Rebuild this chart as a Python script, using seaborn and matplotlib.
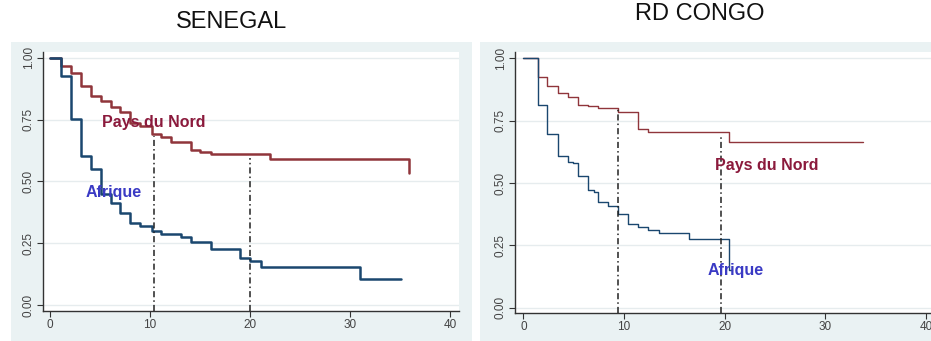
import numpy as np
import pandas as pd
import matplotlib
matplotlib.use("Agg")
import matplotlib.pyplot as plt
from matplotlib.patches import Rectangle
import seaborn as sns

# ---- Data (Kaplan-Meier step curves) ----
sen_nord_t = [0, 1.06, 2.06, 3.06, 4.06, 5.06, 6.06, 7.0, 8.0, 9.0, 10.15, 11.05, 12.05, 14.07, 15.0, 16.07, 22.03, 35.94, 35.94]
sen_nord_s = [1.0, 0.968, 0.939, 0.887, 0.845, 0.825, 0.802, 0.782, 0.735, 0.722, 0.69, 0.678, 0.658, 0.627, 0.62, 0.609, 0.592, 0.592, 0.535]
sen_afr_t = [0, 1.06, 2.06, 3.06, 4.06, 5.06, 6.06, 7.0, 8.0, 9.0, 10.15, 11.05, 13.1, 14.07, 16.07, 18.97, 20.0, 21.07, 31.0, 35.07]
sen_afr_s = [1.0, 0.926, 0.753, 0.602, 0.55, 0.45, 0.411, 0.373, 0.333, 0.319, 0.299, 0.286, 0.274, 0.256, 0.226, 0.191, 0.178, 0.155, 0.104, 0.104]

rdc_nord_t = [0, 1.42, 2.39, 3.41, 4.41, 5.4, 6.46, 7.46, 9.44, 11.37, 12.43, 20.48, 33.7]
rdc_nord_s = [1.0, 0.924, 0.889, 0.86, 0.846, 0.813, 0.809, 0.8, 0.786, 0.715, 0.703, 0.663, 0.663]
rdc_afr_t = [0, 1.42, 2.39, 3.41, 4.41, 4.9, 5.4, 6.46, 7.0, 7.46, 8.45, 9.44, 10.37, 11.37, 12.43, 13.52, 16.47, 20.48, 20.7]
rdc_afr_s = [1.0, 0.813, 0.695, 0.608, 0.586, 0.579, 0.528, 0.472, 0.465, 0.425, 0.409, 0.376, 0.334, 0.322, 0.311, 0.299, 0.277, 0.151, 0.151]

titles = ["SENEGAL", "RD CONGO"]
yticks = [0.0, 0.25, 0.5, 0.75, 1.0]
ytick_labels = ["0.00", "0.25", "0.50", "0.75", "1.00"]
xticks = [0, 10, 20, 30, 40]
label_nord = "Pays du Nord"
label_afr = "Afrique"

sen_vlines = [(10.4, 0.685), (19.95, 0.595)]
rdc_vlines = [(9.45, 0.80), (19.6, 0.686)]

NAVY = "#1a476f"
MAROON = "#90353b"
BG = "#eaf2f3"

sns.set_theme(style="white")
plt.rcParams['font.family'] = ['Liberation Sans', 'DejaVu Sans']

fig = plt.figure(figsize=(9.31, 3.41), dpi=100)
W, H = 931, 341

def fx(px):
    return px / W

def fy(py):
    return 1 - py / H

# outer graph regions
fig.patches.append(Rectangle((fx(11), 0), fx(472) - fx(11), fy(42), transform=fig.transFigure,
                             facecolor=BG, edgecolor="none", zorder=-5))
fig.patches.append(Rectangle((fx(480), 0), fx(931) - fx(480), fy(42), transform=fig.transFigure,
                             facecolor=BG, edgecolor="none", zorder=-5))

axL = fig.add_axes([fx(43), fy(311), fx(459) - fx(43), (311 - 52) / H])
axR = fig.add_axes([fx(515), fy(313), fx(931) - fx(515), (313 - 52) / H])
axL.set_zorder(2)
axR.set_zorder(2)

def make_df(t, s, g):
    return pd.DataFrame({"t": t, "s": s, "g": g})

panels = [
    (axL, sen_nord_t, sen_nord_s, sen_afr_t, sen_afr_s, sen_vlines, (-0.7, 40.9), (-0.024, 1.023), 1.8,
     (5.2, 0.74), (3.6, 0.455)),
    (axR, rdc_nord_t, rdc_nord_s, rdc_afr_t, rdc_afr_s, rdc_vlines, (-0.83, 40.5), (-0.021, 1.025), 1.0,
     (19.05, 0.572), (18.3, 0.148)),
]

for ax, nt, ns, at, as_, vls, xl, yl, lw, pn, pa in panels:
    ax.set_facecolor("white")
    for y in yticks:
        ax.axhline(y, color="#e6ecee", lw=1.0, zorder=0)
    sns.lineplot(data=make_df(nt, ns, "n"), x="t", y="s", drawstyle="steps-post",
                 color=MAROON, lw=lw, ax=ax, estimator=None, sort=False, zorder=3)
    sns.lineplot(data=make_df(at, as_, "a"), x="t", y="s", drawstyle="steps-post",
                 color=NAVY, lw=lw, ax=ax, estimator=None, sort=False, zorder=3)
    for xv, top in vls:
        ax.plot([xv, xv], [yl[0], top], color="#222222", lw=1.1, ls=(0, (4, 2, 1, 2)), zorder=4)
    ax.text(pn[0], pn[1], label_nord, color="#8b1a3c", fontsize=11.5, fontweight="bold",
            va="center", ha="left", zorder=5)
    ax.text(pa[0], pa[1], label_afr, color="#3a3ac4", fontsize=11.5, fontweight="bold",
            va="center", ha="left", zorder=5)
    ax.set_xlim(*xl)
    ax.set_ylim(*yl)
    ax.set_xticks(xticks)
    ax.set_xticklabels([str(v) for v in xticks])
    ax.set_yticks(yticks)
    ax.set_yticklabels(ytick_labels, rotation=90, va="center")
    ax.tick_params(axis="both", which="major", direction="out", length=4, width=0.8,
                   color="#333333", labelsize=8.5, labelcolor="#444444", pad=2,
                   bottom=True, left=True)
    for sp in ["top", "right"]:
        ax.spines[sp].set_visible(False)
    for sp in ["left", "bottom"]:
        ax.spines[sp].set_color("#333333")
        ax.spines[sp].set_linewidth(1.0)
    ax.set_xlabel("")
    ax.set_ylabel("")
    ax.grid(False)
    if ax.get_legend():
        ax.get_legend().remove()

fig.text(fx(232), fy(22), titles[0], fontsize=17, ha="center", va="center", color="#111111")
fig.text(fx(700), fy(14), titles[1], fontsize=17, ha="center", va="center", color="#111111")

fig.savefig("out.png", dpi=100)
